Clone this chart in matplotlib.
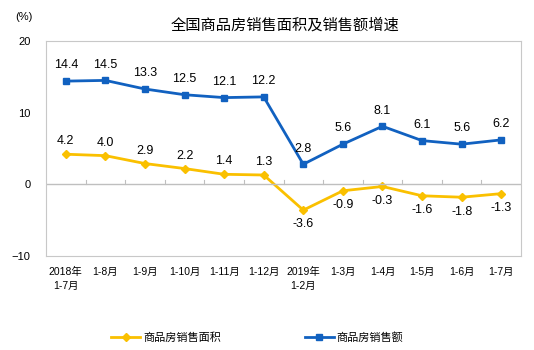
"""National commodity housing sales area and sales value growth."""

import matplotlib
matplotlib.use("Agg")
import matplotlib.pyplot as plt

plt.rcParams["font.family"] = ["Liberation Sans", "Noto Sans CJK SC", "DejaVu Sans"]

months = ["2018年\n1-7月", "1-8月", "1-9月", "1-10月", "1-11月", "1-12月",
          "2019年\n1-2月", "1-3月", "1-4月", "1-5月", "1-6月", "1-7月"]
area_growth = [4.2, 4.0, 2.9, 2.2, 1.4, 1.3, -3.6, -0.9, -0.3, -1.6, -1.8, -1.3]
sales_growth = [14.4, 14.5, 13.3, 12.5, 12.1, 12.2, 2.8, 5.6, 8.1, 6.1, 5.6, 6.2]

YELLOW = "#FAC000"
BLUE = "#1161C0"

fig = plt.figure(figsize=(5.34, 3.5), dpi=100)
ax = fig.add_axes([0.0861, 0.2686, 0.8896, 0.6143])

x = list(range(len(months)))
ax.plot(x, area_growth, color=YELLOW, lw=2, marker="D", ms=4.5, label="商品房销售面积")
ax.plot(x, sales_growth, color=BLUE, lw=2, marker="s", ms=5, label="商品房销售额")

for i, v in enumerate(sales_growth):
    ax.annotate(f"{v:.1f}", (i, v), xytext=(0, 7), textcoords="offset points",
                ha="center", va="bottom", fontsize=9)
for i, v in enumerate(area_growth):
    if v >= 0:
        ax.annotate(f"{v:.1f}", (i, v), xytext=(0, 5), textcoords="offset points",
                    ha="center", va="bottom", fontsize=9)
    else:
        ax.annotate(f"{v:.1f}", (i, v), xytext=(0, -6), textcoords="offset points",
                    ha="center", va="top", fontsize=9)

ax.set_xlim(-0.5, len(months) - 0.5)
ax.set_ylim(-10, 20)
ax.set_yticks([-10, 0, 10, 20])
ax.tick_params(axis="y", length=0, labelsize=8, pad=11)
ax.set_xticks(x)
ax.set_xticklabels(months, fontsize=7.5, linespacing=1.5)
ax.tick_params(axis="x", length=0, pad=8)

# zero line with small category separators
ax.axhline(0, color="#BFBFBF", lw=1)
for b in [i + 0.5 for i in x[:-1]]:
    ax.plot([b, b], [0, 0.6], color="#BFBFBF", lw=0.8)

for s in ax.spines.values():
    s.set_color("#C8C8C8")
    s.set_linewidth(0.8)

fig.text(0.534, 0.929, "全国商品房销售面积及销售额增速", ha="center", va="center", fontsize=11)
fig.text(0.045, 0.95, "(%)", ha="center", va="center", fontsize=8)

fig.legend(loc="center", bbox_to_anchor=(0.482, 0.035), ncol=2, frameon=False,
           fontsize=8, columnspacing=7.5, handlelength=2.6, handletextpad=0.3)

fig.savefig("out.png", dpi=100)
